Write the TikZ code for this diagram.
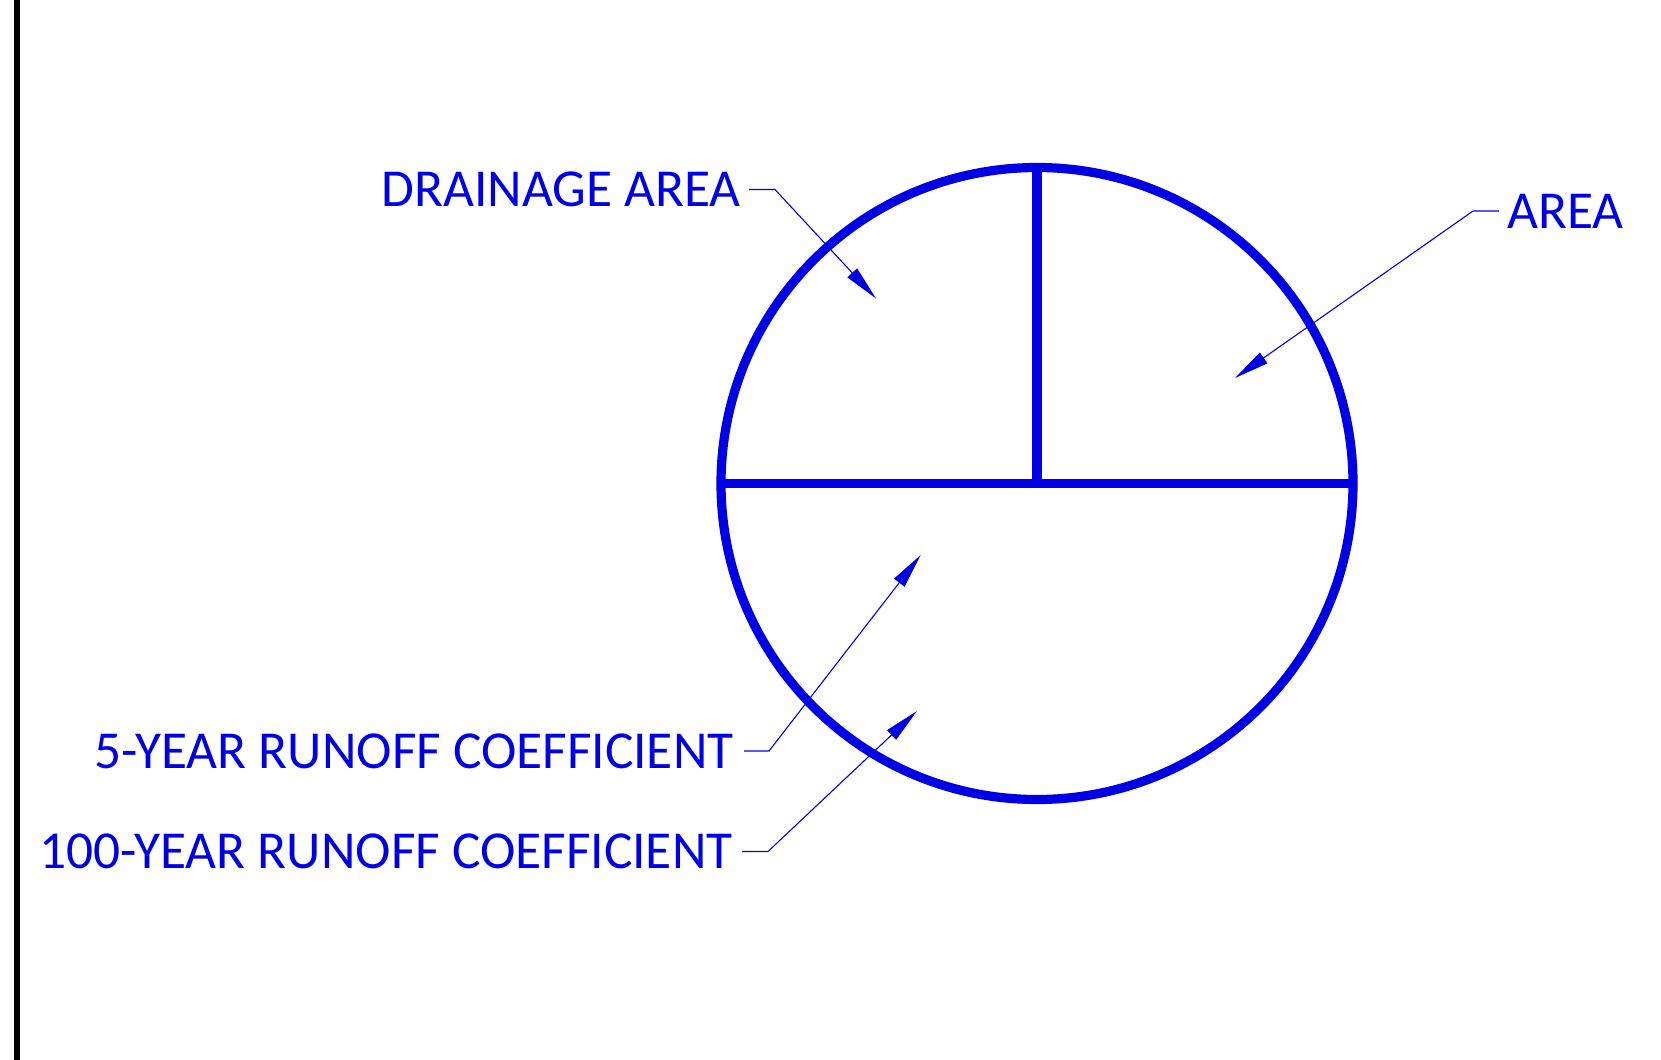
\documentclass[tikz,border=0pt]{standalone}
\usepackage{fontspec}
\setmainfont{Carlito}
\usetikzlibrary{arrows.meta}
\definecolor{cadblue}{RGB}{0,0,228}
\begin{document}
\begin{tikzpicture}[x=0.5pt,y=-0.5pt,
  heavy/.style={draw=cadblue,line width=4.6pt},
  leader/.style={draw=cadblue,line width=0.55pt,-{Triangle[length=17.5pt,width=6.5pt]}},
  lbl/.style={text=cadblue,inner sep=0pt,font=\fontsize{26.7}{31}\selectfont}]
\fill[white] (0,0) rectangle (1661,1060);
\useasboundingbox (0,0) rectangle (1661,1060);
% left border
\coordinate (bt) at (17,0);
\coordinate (bb) at (17,1060);
\draw[line width=3pt,black] (bt) -- (bb);
% circle symbol
\coordinate (c) at (1037,483.5);
\coordinate (top) at (1037,167.5);
\coordinate (lft) at (721,483.5);
\coordinate (rgt) at (1353,483.5);
\draw[heavy] (c) circle[radius=158pt];
\draw[heavy] (top) -- (c);
\draw[heavy,line cap=butt] (lft) -- (rgt);
% labels
\node[lbl,anchor=base east] (dra) at (741,206) {DRAINAGE AREA};
\node[lbl,anchor=base west] (are) at (1507,228) {AREA};
\node[lbl,anchor=base east] (c5) at (734,768) {5-YEAR RUNOFF COEFFICIENT};
\node[lbl,anchor=base east] (c100) at (733,868) {100-YEAR RUNOFF COEFFICIENT};
% leader points
\coordinate (d1) at (749,189.5);
\coordinate (d2) at (775,189.5);
\coordinate (d3) at (876,298.5);
\coordinate (a1) at (1499,211);
\coordinate (a2) at (1473,211);
\coordinate (a3) at (1235,378);
\coordinate (f1) at (744,751);
\coordinate (f2) at (769,751);
\coordinate (f3) at (920.7,555);
\coordinate (h1) at (742,851.5);
\coordinate (h2) at (768,851.5);
\coordinate (h3) at (917,711);
\draw[leader] (d1) -- (d2) -- (d3);
\draw[leader] (a1) -- (a2) -- (a3);
\draw[leader] (f1) -- (f2) -- (f3);
\draw[leader] (h1) -- (h2) -- (h3);
\end{tikzpicture}
\end{document}
